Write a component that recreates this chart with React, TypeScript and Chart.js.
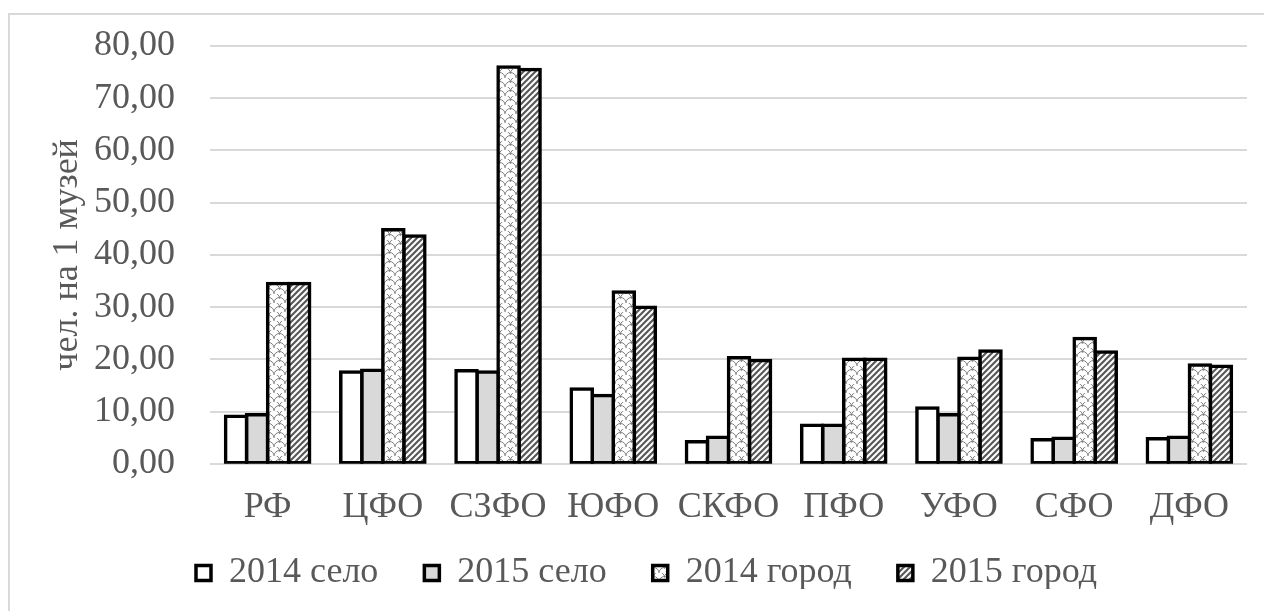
import React, { useEffect, useRef } from 'react';
import { Chart, registerables } from 'chart.js';

Chart.register(...registerables);

const CATEGORIES = ['РФ', 'ЦФО', 'СЗФО', 'ЮФО', 'СКФО', 'ПФО', 'УФО', 'СФО', 'ДФО'];
const SERIES_NAMES = ['2014 село', '2015 село', '2014 город', '2015 город'];
const RURAL_2014 = [9.1, 17.6, 17.8, 14.3, 4.2, 7.4, 10.7, 4.6, 4.8];
const RURAL_2015 = [9.4, 17.9, 17.6, 13.1, 5.1, 7.4, 9.4, 4.9, 5.1];
const URBAN_2014 = [34.5, 44.8, 76.0, 32.9, 20.3, 20.0, 20.2, 24.0, 18.9];
const URBAN_2015 = [34.5, 43.6, 75.5, 30.0, 19.8, 20.0, 21.6, 21.4, 18.7];
const Y_MIN = 0;
const Y_MAX = 80;
const Y_STEP = 10;
const Y_TITLE = 'чел. на 1 музей';

const FONT_FAMILY = '"Liberation Serif", "Times New Roman", serif';
const TEXT_COLOR = '#595959';
const GRID_COLOR = '#d9d9d9';
const LEGEND_TOP = 494;

function makeScallopPattern(ctx: CanvasRenderingContext2D): CanvasPattern | string {
  const w = 11;
  const h = 9;
  const r = 5.5;
  const c = document.createElement('canvas');
  c.width = w;
  c.height = h;
  const g = c.getContext('2d');
  if (!g) return '#ffffff';
  g.fillStyle = '#ffffff';
  g.fillRect(0, 0, w, h);
  g.strokeStyle = '#7f7f7f';
  g.lineWidth = 1;
  g.beginPath();
  g.arc(w / 2, h, r, Math.PI, 2 * Math.PI);
  g.stroke();
  g.beginPath();
  g.arc(0, h / 2, r, Math.PI, 2 * Math.PI);
  g.stroke();
  g.beginPath();
  g.arc(w, h / 2, r, Math.PI, 2 * Math.PI);
  g.stroke();
  return ctx.createPattern(c, 'repeat') || '#ffffff';
}

function makeStripePattern(ctx: CanvasRenderingContext2D): CanvasPattern | string {
  const s = 6;
  const c = document.createElement('canvas');
  c.width = s;
  c.height = s;
  const g = c.getContext('2d');
  if (!g) return '#808080';
  g.fillStyle = '#ffffff';
  g.fillRect(0, 0, s, s);
  g.strokeStyle = '#595959';
  g.lineWidth = 2.2;
  g.beginPath();
  g.moveTo(-s / 2, s / 2);
  g.lineTo(s / 2, -s / 2);
  g.moveTo(0, s);
  g.lineTo(s, 0);
  g.moveTo(s / 2, s * 1.5);
  g.lineTo(s * 1.5, s / 2);
  g.stroke();
  return ctx.createPattern(c, 'repeat') || '#808080';
}

const legendPlacement = {
  id: 'legendPlacement',
  afterLayout(chart: any) {
    const lg = chart.legend;
    if (!lg) return;
    const dy = LEGEND_TOP - lg.top;
    lg.top += dy;
    lg.bottom += dy;
  },
};

export default function App() {
  const canvasRef = useRef<HTMLCanvasElement | null>(null);

  useEffect(() => {
    const canvas = canvasRef.current;
    if (!canvas) return;
    const ctx = canvas.getContext('2d');
    if (!ctx) return;

    const fills = ['#ffffff', '#d9d9d9', makeScallopPattern(ctx), makeStripePattern(ctx)];
    const values = [RURAL_2014, RURAL_2015, URBAN_2014, URBAN_2015];

    const chart = new Chart(ctx, {
      type: 'bar',
      data: {
        labels: CATEGORIES,
        datasets: SERIES_NAMES.map((name, i) => ({
          label: name,
          data: values[i],
          backgroundColor: fills[i] as any,
          borderColor: '#000000',
          borderWidth: 3.5,
          borderSkipped: false,
          inflateAmount: 1.75,
          categoryPercentage: 0.73,
          barPercentage: 1.0,
        })),
      },
      plugins: [legendPlacement],
      options: {
        responsive: false,
        animation: false,
        layout: { padding: { top: 31, left: 36, right: 0, bottom: 0 } },
        plugins: {
          legend: {
            position: 'bottom',
            maxHeight: 80,
            labels: {
              color: TEXT_COLOR,
              font: { family: FONT_FAMILY, size: 36 },
              boxWidth: 15,
              boxHeight: 15,
              padding: 46,
            },
          },
          tooltip: { enabled: false },
        },
        scales: {
          x: {
            grid: {
              display: true,
              drawOnChartArea: false,
              drawTicks: true,
              tickLength: 22,
              tickColor: 'rgba(0,0,0,0)',
              color: 'rgba(0,0,0,0)',
            },
            border: { display: false },
            ticks: {
              color: TEXT_COLOR,
              font: { family: FONT_FAMILY, size: 36 },
              padding: 0,
              maxRotation: 0,
              autoSkip: false,
            },
          },
          y: {
            min: Y_MIN,
            max: Y_MAX,
            grid: {
              color: GRID_COLOR,
              lineWidth: 2,
              drawTicks: true,
              tickLength: 35,
              tickColor: 'rgba(0,0,0,0)',
            },
            border: { display: false },
            ticks: {
              stepSize: Y_STEP,
              color: TEXT_COLOR,
              font: { family: FONT_FAMILY, size: 36 },
              padding: 0,
              callback: (v: any) => Number(v).toFixed(2).replace('.', ','),
            },
            title: {
              display: true,
              text: Y_TITLE,
              color: TEXT_COLOR,
              font: { family: FONT_FAMILY, size: 36, weight: 'normal' },
              padding: { top: 0, bottom: 0 },
            },
            afterFit: (scale: any) => {
              scale.width = 164;
            },
          },
        },
      } as any,
    });

    return () => {
      chart.destroy();
    };
  }, []);

  return (
    <div
      style={{
        position: 'absolute',
        left: 8,
        top: 13,
        width: 1256,
        height: 598,
        boxSizing: 'border-box',
        borderTop: `2px solid ${GRID_COLOR}`,
        borderLeft: `2px solid ${GRID_COLOR}`,
        background: '#ffffff',
      }}
    >
      <canvas ref={canvasRef} width={1237} height={594} style={{ display: 'block', width: 1237, height: 594 }} />
    </div>
  );
}
